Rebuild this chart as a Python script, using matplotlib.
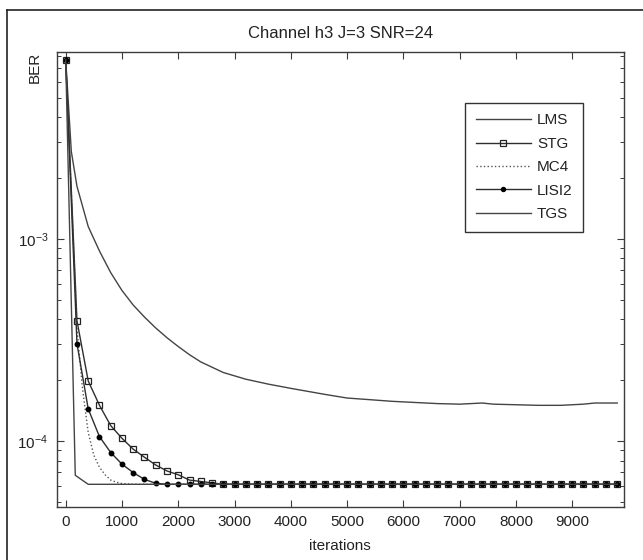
import matplotlib
matplotlib.use("Agg")
import matplotlib.pyplot as plt
from matplotlib.lines import Line2D
from matplotlib.ticker import LogLocator, NullFormatter, FixedLocator

plt.rcParams['font.family'] = ['Liberation Sans', 'DejaVu Sans']
plt.rcParams['mathtext.fontset'] = 'custom'
plt.rcParams['mathtext.rm'] = 'Liberation Sans'

# ---------------- data ----------------
title = "Channel h3 J=3 SNR=24"
xlabel = "iterations"
ylabel = "BER"
xticks = [0, 1000, 2000, 3000, 4000, 5000, 6000, 7000, 8000, 9000]

lms_x = [0, 100, 200, 400, 600, 800, 1000, 1200, 1400, 1600, 1800, 2000, 2200,
         2400, 2800, 3200, 3600, 4000, 4600, 5000, 5400, 5800, 6200, 6600,
         7000, 7400, 7600, 8000, 8400, 8800, 9200, 9400, 9800]
lms_y = [7.7e-3, 2.7e-3, 1.82e-3, 1.15e-3, 8.7e-4, 6.8e-4, 5.55e-4, 4.7e-4,
         4.1e-4, 3.62e-4, 3.24e-4, 2.93e-4, 2.67e-4, 2.46e-4, 2.18e-4,
         2.02e-4, 1.91e-4, 1.82e-4, 1.70e-4, 1.63e-4, 1.60e-4, 1.57e-4,
         1.55e-4, 1.53e-4, 1.52e-4, 1.54e-4, 1.52e-4, 1.51e-4, 1.50e-4,
         1.50e-4, 1.52e-4, 1.54e-4, 1.54e-4]

grid_x = [0, 200, 400, 600, 800, 1000, 1200, 1400, 1600, 1800, 2000, 2200,
          2400, 2600, 2800, 3000, 3200, 3400, 3600, 3800, 4000, 4200, 4400,
          4600, 4800, 5000, 5200, 5400, 5600, 5800, 6000, 6200, 6400, 6600,
          6800, 7000, 7200, 7400, 7600, 7800, 8000, 8200, 8400, 8600, 8800,
          9000, 9200, 9400, 9600, 9800]

stg_y = [7.7e-3, 3.93e-4, 1.98e-4, 1.50e-4, 1.19e-4, 1.03e-4, 9.1e-5, 8.3e-5,
         7.6e-5, 7.1e-5, 6.8e-5, 6.4e-5, 6.3e-5, 6.2e-5, 6.1e-5, 6.1e-5,
         6.1e-5, 6.1e-5, 6.1e-5, 6.1e-5, 6.1e-5, 6.1e-5, 6.1e-5, 6.1e-5,
         6.1e-5, 6.1e-5, 6.1e-5, 6.1e-5, 6.1e-5, 6.1e-5, 6.1e-5, 6.1e-5,
         6.1e-5, 6.1e-5, 6.1e-5, 6.1e-5, 6.1e-5, 6.1e-5, 6.1e-5, 6.1e-5,
         6.1e-5, 6.1e-5, 6.1e-5, 6.1e-5, 6.1e-5, 6.1e-5, 6.1e-5, 6.1e-5,
         6.1e-5, 6.1e-5]

lisi2_y = [7.7e-3, 3.03e-4, 1.44e-4, 1.05e-4, 8.76e-5, 7.67e-5, 6.97e-5,
           6.45e-5, 6.17e-5, 6.1e-5, 6.1e-5, 6.1e-5, 6.1e-5, 6.1e-5, 6.1e-5,
           6.1e-5, 6.1e-5, 6.1e-5, 6.1e-5, 6.1e-5, 6.1e-5, 6.1e-5, 6.1e-5,
           6.1e-5, 6.1e-5, 6.1e-5, 6.1e-5, 6.1e-5, 6.1e-5, 6.1e-5, 6.1e-5,
           6.1e-5, 6.1e-5, 6.1e-5, 6.1e-5, 6.1e-5, 6.1e-5, 6.1e-5, 6.1e-5,
           6.1e-5, 6.1e-5, 6.1e-5, 6.1e-5, 6.1e-5, 6.1e-5, 6.1e-5, 6.1e-5,
           6.1e-5, 6.1e-5, 6.1e-5]

mc4_x = [0, 200, 300, 400, 500, 600, 700, 800, 900, 1000, 1200, 9800]
mc4_y = [7.7e-3, 3.6e-4, 1.8e-4, 1.1e-4, 8.5e-5, 7.4e-5, 6.8e-5, 6.4e-5,
         6.25e-5, 6.15e-5, 6.1e-5, 6.1e-5]

tgs_x = [0, 170, 400, 9800]
tgs_y = [7.7e-3, 6.76e-5, 6.1e-5, 6.1e-5]

# ---------------- figure ----------------
W, H = 643, 560
fig = plt.figure(figsize=(W / 100, H / 100), dpi=100)
ax = fig.add_axes([56.7 / W, 1 - 507 / H, 567.3 / W, 455.3 / H])

lc = '#2e2e2e'
lw = 1.0
ax.plot(lms_x, lms_y, '-', color='#444444', lw=lw, label='LMS')
ax.plot(grid_x, stg_y, '-', color=lc, lw=lw, marker='s', ms=4.5,
        mfc='none', mec='#222222', mew=0.9, label='STG')
ax.plot(mc4_x, mc4_y, ':', color='#555555', lw=lw, label='MC4')
ax.plot(grid_x, lisi2_y, '-', color=lc, lw=lw, marker='o', ms=3.2,
        mfc='black', mec='black', label='LISI2')
ax.plot(tgs_x, tgs_y, '-', color='#444444', lw=lw, label='TGS')

ax.set_yscale('log')
ax.set_xlim(-160, 9920)
ax.set_ylim(4.71e-5, 8.43e-3)
ax.xaxis.set_major_locator(FixedLocator(xticks))
ax.yaxis.set_major_locator(LogLocator(base=10, numticks=10))
ax.yaxis.set_minor_locator(LogLocator(base=10, subs=range(2, 10), numticks=20))
ax.yaxis.set_minor_formatter(NullFormatter())

spine_c = '#3c3c3c'
for s in ax.spines.values():
    s.set_color(spine_c)
    s.set_linewidth(1.0)
ax.tick_params(which='both', direction='in', top=True, right=True,
               colors=spine_c, labelcolor='#222222', labelsize=11)
ax.tick_params(which='major', length=5, width=0.8, pad=6)
ax.tick_params(which='minor', length=3, width=0.7)

ax.set_title(title, fontsize=12, color='#222222', pad=10)
ax.set_xlabel(xlabel, fontsize=11, color='#222222', labelpad=7)
ax.text(-0.038, 1.0, ylabel, transform=ax.transAxes, rotation=90,
        ha='center', va='top', fontsize=11, color='#222222')

leg = ax.legend(loc='upper right', bbox_to_anchor=(0.9283, 0.888),
                borderaxespad=0, fancybox=False, framealpha=1,
                edgecolor='#333333', fontsize=11, handlelength=3.6,
                handletextpad=0.4, labelspacing=0.62, borderpad=0.7,
                markerscale=0.9)
leg.get_frame().set_linewidth(1.0)
for t in leg.get_texts():
    t.set_color('#222222')

# outer frame lines (left and top)
fig.add_artist(Line2D([6.8 / W, 6.8 / W], [0, 1 - 10 / H], transform=fig.transFigure,
                      color='#222222', lw=1.2))
fig.add_artist(Line2D([6.8 / W, 1], [1 - 10 / H, 1 - 10 / H], transform=fig.transFigure,
                      color='#222222', lw=1.2))

fig.savefig('out.png', dpi=100)
